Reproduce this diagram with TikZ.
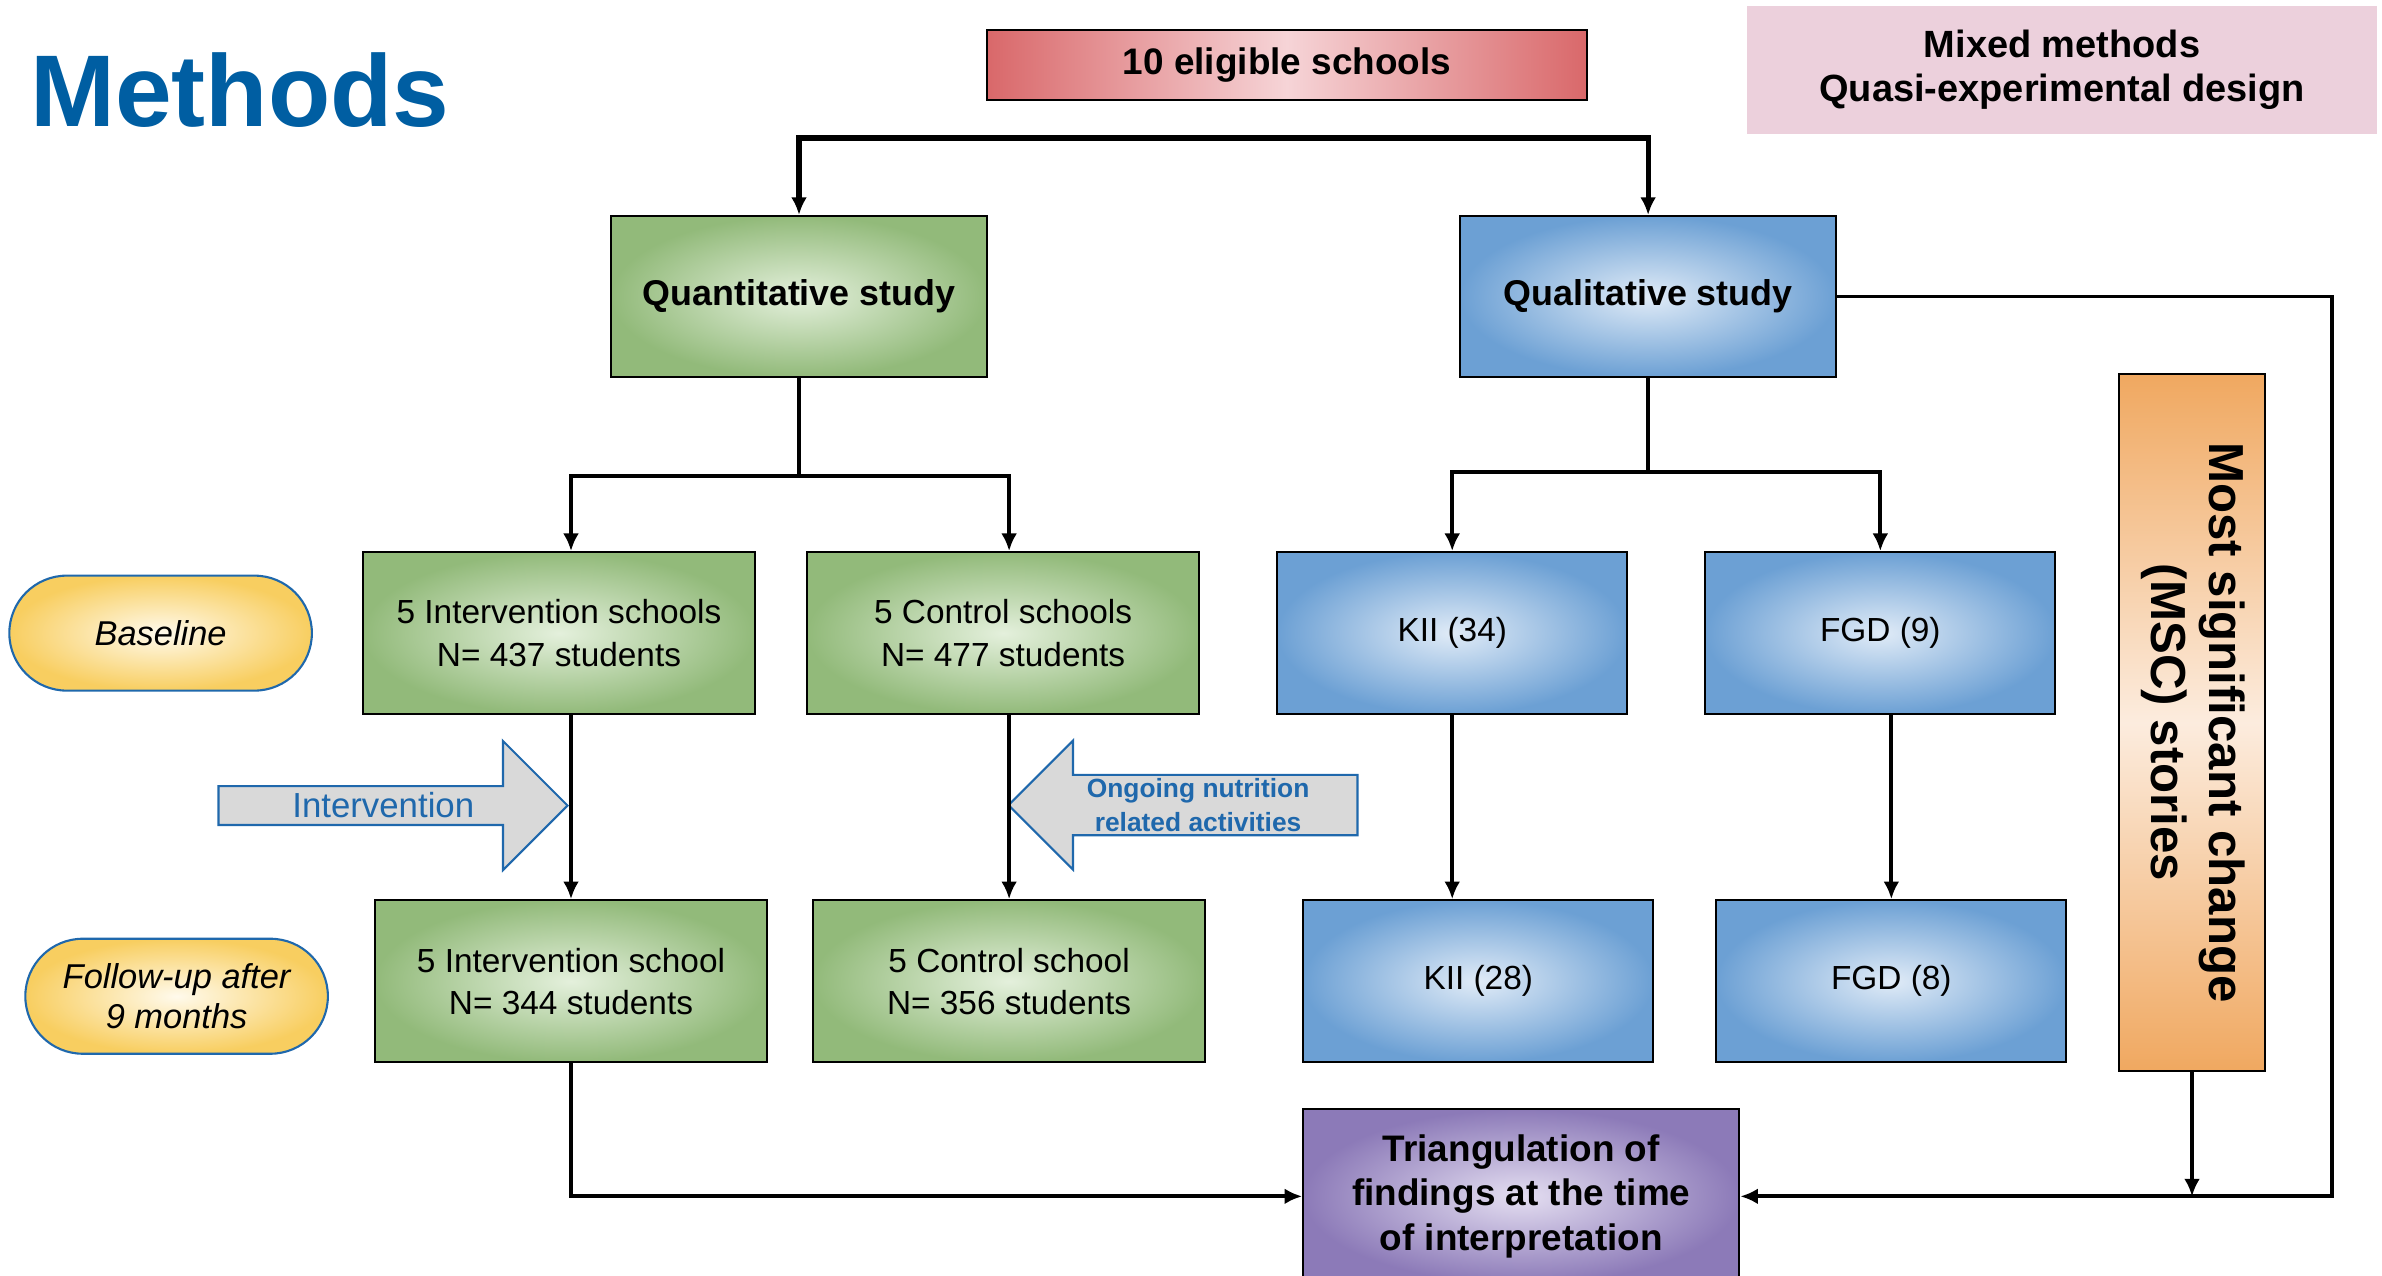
\documentclass[tikz,border=0pt]{standalone}
\usepackage{fontspec}
\setmainfont{Liberation Sans}
\usetikzlibrary{positioning,shapes.arrows,shapes.misc,arrows.meta,calc}
\definecolor{grnout}{RGB}{146,186,122}
\definecolor{grnin}{RGB}{228,240,220}
\definecolor{bluout}{RGB}{108,160,212}
\definecolor{bluin}{RGB}{224,235,247}
\definecolor{yelout}{RGB}{248,206,96}
\definecolor{yelin}{RGB}{255,250,236}
\definecolor{purout}{RGB}{140,122,184}
\definecolor{purin}{RGB}{228,222,241}
\definecolor{orgout}{RGB}{240,168,96}
\definecolor{orgin}{RGB}{252,236,222}
\definecolor{redout}{RGB}{217,104,106}
\definecolor{redin}{RGB}{246,212,215}
\definecolor{pinkbg}{RGB}{236,208,220}
\definecolor{titleblue}{RGB}{0,94,162}
\definecolor{arrowblue}{RGB}{31,104,172}
\definecolor{arrowgrey}{RGB}{217,217,217}

\begin{document}
\begin{tikzpicture}
		\tikzstyle{quantbox} = [rectangle, minimum width=3.92cm, minimum height=1.62cm, align=center, draw=black, line width=0.6pt, inner color=grnin, outer color=grnout, font=\fontsize{9.5}{12}\selectfont];
		\tikzstyle{qualbox} = [rectangle, minimum width=3.5cm, minimum height=1.62cm, align=center, draw=black, line width=0.6pt, inner color=bluin, outer color=bluout, font=\fontsize{9.5}{12}\selectfont];
		\tikzstyle{studybox} = [rectangle, minimum width=3.76cm, minimum height=1.61cm, align=center, draw=black, line width=0.6pt, font=\fontsize{10.2}{12}\selectfont\bfseries];
		\tikzstyle{timepill} = [rounded rectangle, minimum width=3.26cm, minimum height=1.15cm, align=center, draw=arrowblue, line width=0.6pt, inner color=yelin, outer color=yelout, font=\fontsize{9.8}{11.2}\selectfont\itshape];
		\tikzstyle{bigarrow} = [single arrow, single arrow head extend=0.32cm, minimum height=3.49cm, minimum width=1.29cm, inner sep=0pt, align=center, draw=arrowblue, line width=0.6pt, fill=arrowgrey, text=arrowblue];
		\tikzstyle{flow} = [line width=1.1pt, -{Latex[length=5pt,width=4.5pt]}];
		\useasboundingbox (0,0) rectangle (23.82,-12.75);
		\node (title) [anchor=base west, text=titleblue, font=\fontsize{29}{30}\selectfont\bfseries] at (0.18,-1.26) {Methods};
		\node (eligible) [rectangle, minimum width=6cm, minimum height=0.7cm, draw=black, line width=0.6pt, left color=redout, right color=redout, middle color=redin, font=\fontsize{10.5}{12}\selectfont\bfseries] at (12.87,-0.65) {10 eligible schools};
		\node (design) [rectangle, minimum width=6.3cm, minimum height=1.28cm, fill=pinkbg, align=center, font=\fontsize{10.8}{12.5}\selectfont\bfseries] at (20.62,-0.70) {Mixed methods\\Quasi-experimental design};
		\node (quant) [studybox, inner color=grnin, outer color=grnout] at (7.99,-2.965) {Quantitative study};
		\node (qual) [studybox, inner color=bluin, outer color=bluout, right=4.71cm of quant] {Qualitative study};
		\node (int1) [quantbox, below=1.73cm of quant, xshift=-2.40cm] {5 Intervention schools\\N= 437 students};
		\node (ctl1) [quantbox, right=0.5cm of int1] {5 Control schools\\N= 477 students};
		\node (kii1) [qualbox, right=0.76cm of ctl1] {KII (34)};
		\node (fgd1) [qualbox, right=0.76cm of kii1] {FGD (9)};
		\node (int2) [quantbox, below=1.84cm of int1, xshift=0.12cm] {5 Intervention school\\N= 344 students};
		\node (ctl2) [quantbox, right=0.44cm of int2] {5 Control school\\N= 356 students};
		\node (kii2) [qualbox, right=0.96cm of ctl2] {KII (28)};
		\node (fgd2) [qualbox, right=0.61cm of kii2] {FGD (8)};
		\node (baseline) [timepill, left=0.49cm of int1] {Baseline};
		\node (followup) [timepill, left=0.45cm of int2, yshift=-0.15cm] {Follow-up after\\9 months};
		\node (msc) [rectangle, minimum width=1.46cm, minimum height=6.97cm, draw=black, line width=0.6pt, top color=orgout, bottom color=orgout, middle color=orgin, font=\fontsize{14}{16.5}\selectfont\bfseries] at (21.92,-7.225) {\rotatebox{-90}{\begin{tabular}{@{}c@{}}Most significant change\\(MSC) stories\end{tabular}}};
		\node (tri) [rectangle, minimum width=4.36cm, minimum height=1.74cm, draw=black, line width=0.6pt, inner color=purin, outer color=purout, align=center, font=\fontsize{10.5}{12.7}\selectfont\bfseries, below=0.45cm of kii2.south west, anchor=north west] {Triangulation of\\findings at the time\\of interpretation};
		\node (intarrow) [bigarrow, anchor=tip, font=\fontsize{9.9}{12}\selectfont] at (5.69,-8.055) {Intervention};
		\node (ongoing) [bigarrow, shape border rotate=180, anchor=tip, font=\fontsize{7.5}{9.9}\selectfont\bfseries] at (10.07,-8.05) {Ongoing nutrition\\related activities};
		\coordinate (topbar) at ($(eligible.south)+(0,-0.37)$);
		\coordinate (qsplit) at ($(quant.south)+(0,-0.98)$);
		\coordinate (ksplit) at ($(qual.south)+(0,-0.94)$);
		\coordinate (rim) at (23.32,0 |- tri.east);
		\draw[flow, {Latex[length=5pt,width=4.5pt]}-{Latex[length=5pt,width=4.5pt]}, line width=1.5pt] (quant.north) |- (topbar) -| (qual.north);
		\draw[line width=1.1pt] (quant.south) -- (qsplit);
		\draw[flow, {Latex[length=5pt,width=4.5pt]}-{Latex[length=5pt,width=4.5pt]}] (int1.north -| int2.north) |- (qsplit) -| (ctl1.north -| ctl2.north);
		\draw[line width=1.1pt] (qual.south) -- (ksplit);
		\draw[flow, {Latex[length=5pt,width=4.5pt]}-{Latex[length=5pt,width=4.5pt]}] (kii1.north) |- (ksplit) -| (fgd1.north);
		\draw[flow] (int1.south -| int2.north) -- (int2.north);
		\draw[flow] (ctl1.south -| ctl2.north) -- (ctl2.north);
		\draw[flow] (kii1.south) -- (kii1.south |- kii2.north);
		\draw[flow] (fgd1.south -| fgd2.north) -- (fgd2.north);
		\draw[flow] (int2.south) |- (tri.west);
		\draw[flow] (qual.east) -| (rim) -- (tri.east);
		\draw[flow, line width=0.9pt] (msc.south) -- (msc.south |- tri.east);
	\end{tikzpicture}
\end{document}
